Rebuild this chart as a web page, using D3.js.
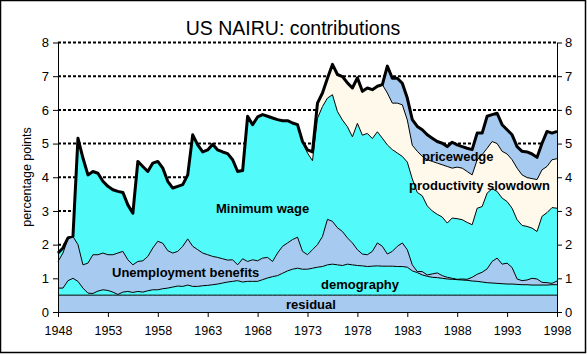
<!DOCTYPE html>
<html><head><meta charset="utf-8">
<script src="https://cdn.jsdelivr.net/npm/d3@7"></script>
<style>body{margin:0;background:#fff}svg{display:block}</style>
</head><body><svg id="c" width="587" height="355"></svg>
<script>
// half-yearly observations, 1948.0 ... 1998.0
const years = d3.range(1948, 1998.25, 0.5);
const xTicks = [1948,1953,1958,1963,1968,1973,1978,1983,1988,1993,1998];
const yTicks = [0,1,2,3,4,5,6,7,8];

const residual = [0.5,0.5,0.5,0.5,0.5,0.5,0.5,0.5,0.5,0.5,
 0.5,0.5,0.5,0.5,0.5,0.5,0.5,0.5,0.5,0.5,
 0.5,0.5,0.5,0.5,0.5,0.5,0.5,0.5,0.5,0.5,
 0.5,0.5,0.5,0.5,0.5,0.5,0.5,0.5,0.5,0.5,
 0.5,0.5,0.5,0.5,0.5,0.5,0.5,0.5,0.5,0.5,
 0.5,0.5,0.5,0.5,0.5,0.5,0.5,0.5,0.5,0.5,
 0.5,0.5,0.5,0.5,0.5,0.5,0.5,0.5,0.5,0.5,
 0.5,0.5,0.5,0.5,0.5,0.5,0.5,0.5,0.5,0.5,
 0.5,0.5,0.5,0.5,0.5,0.5,0.5,0.5,0.5,0.5,
 0.5,0.5,0.5,0.5,0.5,0.5,0.5,0.5,0.5,0.5,
 0.5];
const demography = [0.21,0.21,0.43,0.50,0.41,0.21,0.06,0.05,0.12,0.16,
 0.14,0.09,0.02,0.09,0.11,0.08,0.11,0.09,0.13,0.16,
 0.16,0.19,0.21,0.24,0.27,0.26,0.30,0.26,0.26,0.28,
 0.29,0.31,0.33,0.36,0.39,0.41,0.43,0.39,0.41,0.41,
 0.41,0.46,0.51,0.55,0.58,0.65,0.72,0.77,0.80,0.77,
 0.77,0.80,0.83,0.85,0.90,0.92,0.90,0.88,0.92,0.90,
 0.88,0.87,0.85,0.86,0.87,0.86,0.86,0.86,0.85,0.85,
 0.83,0.72,0.67,0.60,0.56,0.53,0.52,0.50,0.48,0.47,
 0.46,0.45,0.44,0.42,0.41,0.39,0.37,0.36,0.35,0.34,
 0.33,0.33,0.32,0.31,0.31,0.30,0.30,0.30,0.30,0.31,
 0.31];
const unemploymentBenefits = [0.79,1.04,1.26,1.24,1.09,0.69,0.89,1.15,1.08,1.09,
 1.06,1.11,1.23,1.21,0.94,0.82,0.89,0.93,1.02,1.24,
 1.44,1.35,1.11,1.01,1.03,1.19,1.37,1.19,1.09,0.97,
 0.91,0.84,0.79,0.72,0.65,0.64,0.47,0.69,0.59,0.64,
 0.61,0.64,0.61,0.45,0.67,0.80,0.83,0.88,0.92,0.53,
 0.43,0.55,0.67,0.89,1.35,1.27,1.10,1.01,0.78,0.65,
 0.47,0.35,0.35,0.44,0.68,0.59,0.36,0.44,0.60,0.70,
 0.52,0.18,0.03,0.10,0.04,0.10,0.14,0.08,0.05,0.03,
 0.01,0.03,0.03,0.11,0.21,0.29,0.41,0.64,0.75,0.58,
 0.62,0.49,0.16,0.12,0.14,0.20,0.18,0.08,0.07,0.04,
 0.11];
const minimumWage = [0.25,0.15,0.01,0.01,3.16,3.17,2.62,2.47,2.42,2.13,
 2.03,1.93,1.83,1.75,1.63,1.53,2.97,2.80,2.52,2.52,
 2.37,2.23,2.06,1.93,1.93,1.83,1.90,3.31,3.11,3.00,
 3.11,3.33,3.19,3.17,3.16,2.97,2.77,2.62,4.31,4.01,
 4.27,4.26,4.19,4.26,3.96,3.73,3.63,3.46,3.34,3.23,
 3.02,2.64,3.75,3.86,3.60,3.76,3.45,3.31,3.30,3.15,
 3.75,3.53,3.60,3.35,3.30,3.21,3.24,3.02,2.77,2.57,
 2.60,2.55,2.35,2.25,2.05,1.87,1.74,1.74,1.61,1.79,
 1.80,1.76,1.69,1.56,1.96,1.95,2.25,2.16,1.98,1.96,
 1.83,1.76,1.76,1.64,1.59,1.49,1.41,1.96,2.08,2.25,
 2.16];
const productivitySlowdown = [0,0,0,0,0,0,0,0,0,0,
 0,0,0,0,0,0,0,0,0,0,
 0,0,0,0,0,0,0,0,0,0,
 0,0,0,0,0,0,0,0,0,0,
 0,0,0,0,0,0,0,0,0,0.03,
 0.09,0.26,0.45,0.40,0.59,0.90,1.10,1.29,1.30,1.45,
 1.35,1.30,1.35,1.45,1.35,1.59,1.54,1.38,1.48,1.53,
 1.25,1.00,1.22,1.17,1.37,1.47,1.52,1.55,1.68,1.48,
 1.53,1.53,1.51,1.48,1.44,1.54,1.33,1.40,1.42,1.39,
 1.41,1.44,1.53,1.50,1.45,1.47,1.54,1.38,1.37,1.42,
 1.47];
const pricewedge = [0,0,0,0,0,0,0,0,0,0,
 0,0,0,0,0,0,0,0,0,0,
 0,0,0,0,0,0,0,0,0,0,
 0,0,0,0,0,0,0,0,0,0,
 0,0,0,0,0,0,0,0,0,0,
 0,0,0,0,0,0,0,0,0,0,
 0,0,0,0,0,0,0.80,0.74,0.74,0.64,
 0.65,0.76,0.74,0.79,0.74,0.69,0.64,0.64,0.59,0.77,
 0.66,0.64,0.69,0.75,0.79,0.64,0.95,0.80,0.90,0.79,
 0.72,0.74,0.64,0.70,0.76,0.73,0.66,0.79,1.04,0.79,
 0.81];

const seriesKeys = ['residual','demography','unemployment','minimumWage','productivity','pricewedge'];
const rows = years.map((yr, i) => ({
  year: yr, residual: residual[i], demography: demography[i],
  unemployment: unemploymentBenefits[i], minimumWage: minimumWage[i],
  productivity: productivitySlowdown[i], pricewedge: pricewedge[i]
}));

const FONT = "'Liberation Sans', Arial, Helvetica, sans-serif";
const svg = d3.select('#c');
const x = d3.scaleLinear().domain([1948, 1998]).range([58, 557]);
const y = d3.scaleLinear().domain([0, 8]).range([312, 42.5]);

const fills = {
  residual: '#A6CAF0', demography: '#52FAFA', unemployment: '#A6CAF0',
  minimumWage: '#52FAFA', productivity: '#FFF9EC', pricewedge: '#A6CAF0'
};

svg.append('rect').attr('x', 0).attr('y', 0).attr('width', 587).attr('height', 355).attr('fill', '#fff');

// gridlines
svg.append('g').selectAll('line').data(yTicks.filter(v => v > 0)).join('line')
  .attr('x1', x(1948)).attr('x2', x(1998)).attr('y1', d => y(d)).attr('y2', d => y(d))
  .attr('stroke', '#000').attr('stroke-width', 2).attr('stroke-dasharray', '3,2');

const stacked = d3.stack().keys(seriesKeys)(rows);
const area = d3.area().x(d => x(d.data.year)).y0(d => y(d[0])).y1(d => y(d[1]));
const topLine = d3.line().x(d => x(d.data.year)).y(d => y(d[1]));

svg.append('g').selectAll('path').data(stacked).join('path')
  .attr('d', area).attr('fill', d => fills[d.key]).attr('stroke', 'none');
svg.append('g').selectAll('path').data(stacked).join('path')
  .attr('d', topLine).attr('fill', 'none').attr('stroke', '#000').attr('stroke-width', 1);
// total NAIRU line
svg.append('path').datum(stacked[stacked.length - 1]).attr('d', topLine)
  .attr('fill', 'none').attr('stroke', '#000').attr('stroke-width', 3).attr('stroke-linejoin', 'round');

// axes
const styleAxis = g => {
  g.selectAll('path.domain').attr('stroke', '#000').attr('stroke-width', 1);
  g.selectAll('.tick line').attr('stroke', '#000');
  g.selectAll('text').attr('font-family', FONT).attr('font-size', 13).attr('fill', '#000');
};
svg.append('g').attr('transform', `translate(${x(1948)},0)`)
  .call(d3.axisLeft(y).tickValues(yTicks).tickSize(5).tickSizeOuter(0).tickPadding(4).tickFormat(d3.format('d')))
  .call(styleAxis);
svg.append('g').attr('transform', `translate(${x(1998)},0)`)
  .call(d3.axisRight(y).tickValues(yTicks).tickSize(5).tickSizeOuter(0).tickPadding(3).tickFormat(d3.format('d')))
  .call(styleAxis);
svg.append('g').attr('transform', `translate(0,${y(0)})`)
  .call(d3.axisBottom(x).tickValues(xTicks).tickSize(5).tickSizeOuter(0).tickPadding(9).tickFormat(d3.format('d')))
  .call(styleAxis)
  .call(g => g.selectAll('text').attr('font-size', 12.5));

// title and axis label
svg.append('text').attr('x', 293).attr('y', 35).attr('text-anchor', 'middle')
  .attr('font-family', FONT).attr('font-size', 19.5).text('US NAIRU: contributions');
svg.append('text').attr('transform', 'translate(31,177) rotate(-90)').attr('text-anchor', 'middle')
  .attr('font-family', FONT).attr('font-size', 12.5).text('percentage points');

// series labels
const labels = [
  {t: 'Minimum wage', x: 216, y: 213},
  {t: 'Unemployment benefits', x: 112, y: 277},
  {t: 'demography', x: 321, y: 289},
  {t: 'residual', x: 286, y: 309},
  {t: 'productivity slowdown', x: 409, y: 190},
  {t: 'pricewedge', x: 422, y: 161}
];
svg.append('g').selectAll('text').data(labels).join('text')
  .attr('x', d => d.x).attr('y', d => d.y).attr('font-family', FONT)
  .attr('font-size', 13).attr('font-weight', 'bold').attr('fill', '#000').text(d => d.t);

// outer frame
svg.append('rect').attr('x', 0.5).attr('y', 0.5).attr('width', 585).attr('height', 352)
  .attr('fill', 'none').attr('stroke', '#000').attr('stroke-width', 1.5);
</script>
</body></html>
